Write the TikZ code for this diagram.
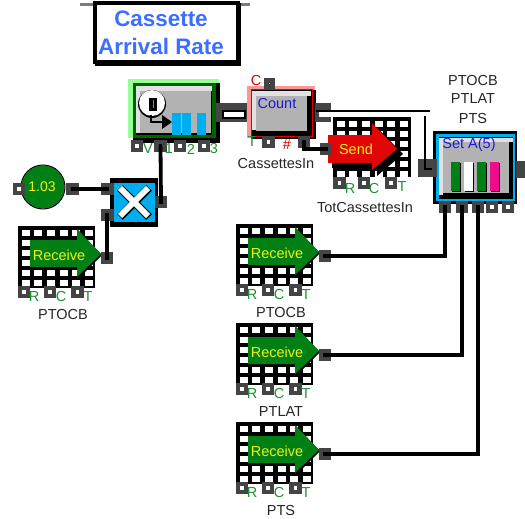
\documentclass[tikz,border=0pt]{standalone}
\usepackage{fontspec}
\setmainfont{Liberation Sans}
\definecolor{pgray}{RGB}{68,68,68}
\definecolor{bgray}{RGB}{178,178,178}
\definecolor{hgray}{RGB}{225,225,225}
\definecolor{lgreen}{RGB}{150,255,150}
\definecolor{dgreen}{RGB}{0,100,0}
\definecolor{agreen}{RGB}{0,128,20}
\definecolor{lblgreen}{RGB}{30,145,50}
\definecolor{lred}{RGB}{255,150,150}
\definecolor{cyanb}{RGB}{0,174,239}
\definecolor{tblue}{RGB}{60,110,255}
\definecolor{dblue}{RGB}{25,25,215}
\definecolor{yel}{RGB}{240,240,20}
\definecolor{pinkb}{RGB}{240,10,140}
\definecolor{redb}{RGB}{225,5,5}
\tikzset{
  portw/.style={draw=pgray,line width=4.2pt,fill=white,minimum size=8pt,inner sep=0pt,outer sep=0pt,rectangle},
  portb/.style={portw,fill=black},
  wire/.style={draw=black,line width=3.8pt,line join=miter},
  txt/.style={font=\fontsize{14.5}{14.5}\selectfont,inner sep=0pt,text=black!85},
  lblg/.style={txt,text=lblgreen},
  lblr/.style={txt,text=red!85!black},
  blue14/.style={txt,text=dblue},
  yel14/.style={txt,text=yel},
  title/.style={font=\fontsize{22.4}{28}\selectfont\bfseries,inner sep=0pt,text=tblue,align=center},
}
\newcommand{\filmholes}{%
  \foreach \i in {0,...,5}{\foreach \j in {0,...,5}{
    \fill[white] ({3.5+12.7*\i},{4+10*\j}) rectangle ++(8,5.5);}}}
\newcommand{\receive}[4]{% x y name label
  \begin{scope}[shift={(#1,#2)}]
    \fill[black] (0,0) rectangle (77,62);
    \filmholes
    \fill[black] (12,15)--(60,15)--(60,4)--(84,29)--(60,53)--(60,42)--(12,42)--cycle;
    \fill[agreen] (12,14)--(59,14)--(59,3)--(83,28)--(59,51)--(59,41)--(12,41)--cycle;
    \node[yel14] (#3txt) at (41,29) {Receive};
    \node[portw] (#3r) at (6,66) {};
    \node[portw] (#3c) at (32,66) {};
    \node[portw] (#3t) at (59.5,66) {};
    \node[lblg] (#3R) at (16,71) {R};
    \node[lblg] (#3C) at (43,71) {C};
    \node[lblg] (#3T) at (70,71) {T};
    \node[portb] (#3out) at (89,32) {};
    \node[txt] (#3lab) at (45,89) {#4};
  \end{scope}}
\begin{document}
\begin{tikzpicture}[x=1pt,y=-1pt]
\useasboundingbox (0,0) rectangle (525,519);
\fill[white] (0,0) rectangle (525,519);
% title
\fill[pgray!70] (80,3.5) rectangle (250,6);
\fill[white] (96,5) rectangle (236,62);
\draw[black,line width=4pt] (95,3) rectangle (238,62.5);
\fill[black] (236,3) rectangle (241,65);
\fill[black] (95,61) rectangle (241,66);
\node[title] (titletxt) at (161,33) {Cassette\\Arrival Rate};
% timer block
\fill[lgreen] (128,79) rectangle (219,83);
\fill[lgreen] (128,79) rectangle (133,138);
\fill[black] (133,83) rectangle (220,143);
\fill[dgreen] (133,83) rectangle (216,138);
\fill[black] (136,86) rectangle (212,135);
\fill[hgray] (136,86) rectangle (212,91);
\fill[hgray] (136,86) rectangle (140,133);
\fill[bgray] (140,91) rectangle (211,133);
\fill[black] (152,104) circle (14);
\fill[white] (152,103) circle (13);
\fill[black] (149,98) rectangle (157,111);
\fill[cyanb] (152.5,100) rectangle (154,108);
\draw[black,line width=1.6pt] (151,115) -- (151,122) -- (166,122);
\fill[black] (162,115) -- (172,122) -- (162,129) -- cycle;
\fill[cyanb] (172,113) rectangle (181,135);
\fill[cyanb] (182,113) rectangle (191,135);
\fill[cyanb] (197,113) rectangle (206,135);
% timer ports
\node[portw] (tv) at (137,146) {};
\node[portb] (t1) at (160.5,146) {};
\node[portw] (t2) at (180,146) {};
\node[portw] (t3) at (204,146) {};
\node[lblg] (tlv) at (148,149) {V};
\node[lblg] (tl1) at (169,149) {1};
\node[lblg] (tl2) at (191,149) {2};
\node[lblg] (tl3) at (214,149) {3};
% link timer -> count
\fill[pgray] (216,103) rectangle (252,122);
\fill[black] (222,109.5) rectangle (246,118.5);
\fill[white] (224,111.5) rectangle (244,116.5);
% count
\fill[lred] (247,86) rectangle (315,90);
\fill[lred] (247,86) rectangle (251,138);
\fill[black] (251,90) rectangle (316,139);
\draw[red!90!black,line width=1pt] (251,90) rectangle (312,136);
\fill[hgray] (252,91) rectangle (311,96);
\fill[hgray] (252,91) rectangle (256,130);
\fill[bgray] (256,96) rectangle (307,131);
\node[blue14] (ctxt) at (277,104) {Count};
\node[lblr] (cC) at (256,81) {C};
\node[portw,minimum size=6pt,line width=5pt] (ctop) at (269.5,84) {};
\node[lblg] (cT) at (252,142) {T};
\node[portw] (cb1) at (268.5,142) {};
\node[lblr] (cH) at (287,145) {\#};
\node[portb] (cb2) at (304,142) {};
\node[txt] (clab) at (276,164) {CassettesIn};
% count output
\fill[pgray] (315,103) rectangle (331,122);
\fill[white] (319,111) rectangle (331,116.5);
\coordinate (cout) at (316,111);
\coordinate (setend) at (430,111);
\draw[black,line width=2pt] (cout) -- (setend);
% send
\fill[black] (333,117) rectangle (411,177);
\begin{scope}[shift={(333,117)}]\filmholes\end{scope}
\fill[black] (332,141)--(377,141)--(377,128)--(403,154)--(377,176)--(377,168)--(332,168)--cycle;
\fill[redb] (328,135)--(372,135)--(372,123)--(397,149)--(372,170)--(372,163)--(328,163)--cycle;
\node[yel14] (stxt) at (356,149) {Send};
\node[portb] (sin) at (326,149) {};
\node[portw] (sr) at (339.5,183) {};
\node[portw] (sc) at (364,183) {};
\node[portw] (st) at (391,183) {};
\node[lblg] (sR) at (350,189) {R};
\node[lblg] (sC) at (374,189) {C};
\node[lblg] (sT) at (402,187) {T};
\node[txt] (slab) at (365,208) {TotCassettesIn};
\draw[wire] (cb2.center) |- (sin.center);
% set A
\node[txt] (a1) at (473,81) {PTOCB};
\node[txt] (a2) at (473,99) {PTLAT};
\node[txt] (a3) at (473,119) {PTS};
\fill[black] (433,131) rectangle (517,204);
\draw[cyanb,line width=2.5pt] (437.5,135.5) rectangle (514,200);
\fill[black] (439,138) rectangle (513,197);
\fill[hgray] (439,138) rectangle (513,142);
\fill[hgray] (439,138) rectangle (443,195);
\fill[bgray] (443,142) rectangle (509,193);
\node[blue14] (settxt) at (469,145) {Set A(5)};
\fill[black] (452,163) rectangle (461,192);
\fill[black] (465,163) rectangle (474,192);
\fill[black] (478,163) rectangle (487,192);
\fill[black] (491,163) rectangle (500,192);
\fill[agreen] (451,162) rectangle (460,191);
\fill[white] (464,162) rectangle (473,191);
\fill[agreen] (477,162) rectangle (486,191);
\fill[pinkb] (490,162) rectangle (499,191);
\fill[pgray] (418,159) rectangle (437,177);
\coordinate (setin) at (432,169);
\coordinate (settop) at (425,116);
\fill[pgray] (516,161) rectangle (525,178);
\node[portb] (sb1) at (445,207) {};
\node[portb] (sb2) at (462,207) {};
\node[portb] (sb3) at (478,207) {};
\node[portw] (sb4) at (492,207) {};
\node[portw] (sb5) at (508,207) {};
\draw[black,line width=2pt] (settop) |- (setin);
% constant
\fill[agreen] (43,187) circle (21.5);
\draw[black,line width=1pt] (43,187) circle (22);
\node[yel14,font=\fontsize{14}{14}\selectfont] (ktxt) at (42,187) {1.03};
\node[portw] (kl) at (19,189) {};
\node[portb] (kr) at (72.5,189) {};
% multiplier
\fill[black] (110,178) rectangle (158,227);
\fill[cyanb] (114,183) rectangle (155,222);
\draw[black,line width=8pt] (120,188) -- (149,217);
\draw[black,line width=8pt] (149,188) -- (120,217);
\draw[white,line width=6pt] (120,188) -- (148,216);
\draw[white,line width=6pt] (148,188) -- (120,216);
\node[portb] (x1) at (107.5,189) {};
\node[portb] (x2) at (107.5,215) {};
\node[portb] (xo) at (161,202) {};
% receive blocks
\receive{18}{226}{ra}{PTOCB}
\receive{236}{224}{rb}{PTOCB}
\receive{236}{323}{rc}{PTLAT}
\receive{236}{422}{rd}{PTS}
% wires
\draw[wire] (kr.center) -- (x1.center);
\draw[wire] (raout.center) |- (x2.center);
\draw[wire] (t1.center) -- (xo.center);
\draw[wire] (rbout.center) -| (sb1.center);
\draw[wire] (rcout.center) -| (sb2.center);
\draw[wire] (rdout.center) -| (sb3.center);
\end{tikzpicture}
\end{document}
